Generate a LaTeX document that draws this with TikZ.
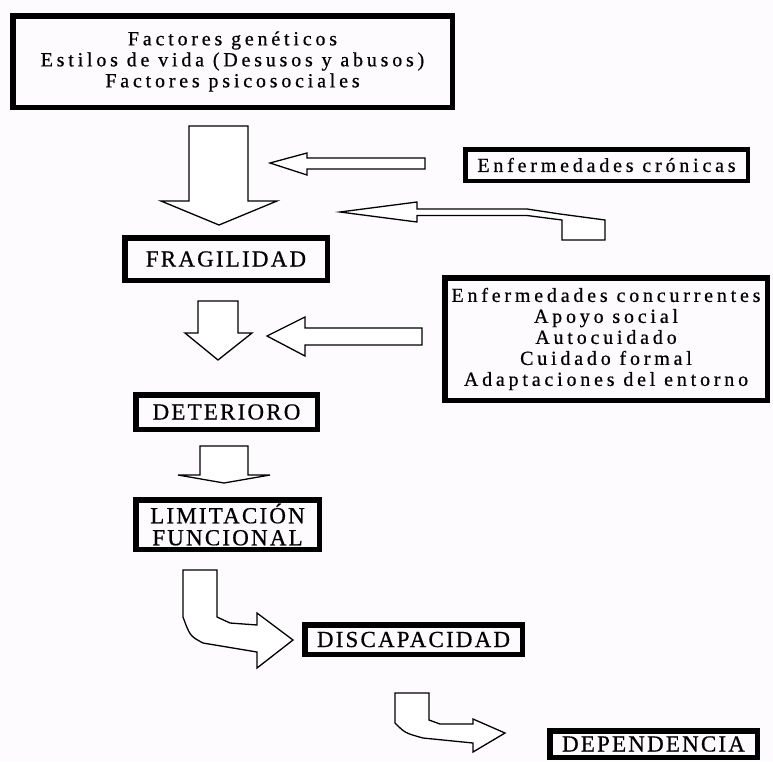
\documentclass[tikz,border=0pt]{standalone}
\usepackage{fontspec}
\newfontfamily\diagfontfam{Liberation Serif}[LetterSpace=19,FakeBold=0.6]
\newfontfamily\capfontfam{Liberation Serif}[LetterSpace=9.5,FakeBold=0.6]
\newcommand\diagfont{\diagfontfam\fontsize{20}{21}\selectfont}
\newcommand\capfont{\capfontfam\fontsize{23}{22}\selectfont}
\definecolor{paper}{RGB}{253,251,253}
\tikzset{
  box/.style={draw, line width=5.5pt, align=center, inner sep=0pt, font=\diagfont},
  capbox/.style={box, font=\capfont},
  blockarrow/.style={draw, line width=1.3pt, fill=white, line join=miter}
}
\begin{document}
\begin{tikzpicture}[x=1pt,y=-1pt]
\fill[paper] (0,0) rectangle (773,761);
\useasboundingbox (0,0) rectangle (773,761);

% boxes
\node[box, minimum width=439.5pt, minimum height=91.5pt] (factores) at (232.5,61.5)
  {Factores genéticos\\Estilos de vida (Desusos y abusos)\\Factores psicosociales};
\node[box, line width=4.5pt, minimum width=282.5pt, minimum height=31.5pt] (cronicas) at (606.5,165) {Enfermedades crónicas};
\node[capbox, minimum width=202.5pt, minimum height=42.5pt] (fragilidad) at (226,259) {FRAGILIDAD};
\node[box, minimum width=322.5pt, minimum height=122.5pt] (concurrentes) at (606,339)
  {Enfermedades concurrentes\\Apoyo social\\Autocuidado\\Cuidado formal\\Adaptaciones del entorno};
\node[capbox, minimum width=181.5pt, minimum height=34.5pt] (deterioro) at (226.5,412) {DETERIORO};
\node[capbox, minimum width=183.5pt, minimum height=49.5pt] (limitacion) at (227.5,524.5) {LIMITACIÓN\\FUNCIONAL};
\node[capbox, minimum width=217.5pt, minimum height=29.5pt] (discapacidad) at (413.5,639.5) {DISCAPACIDAD};
\node[capbox, minimum width=207.5pt, minimum height=26.5pt] (dependencia) at (653.5,744) {DEPENDENCIA};

% big down arrow (factores -> fragilidad)
\draw[blockarrow] (189,126) -- (248,126) -- (248,201) -- (277,201) -- (219,225)
  -- (161,201) -- (189,201) -- cycle;
% left arrow from cronicas
\draw[blockarrow] (425,158) -- (425,169) -- (307,169) -- (307,175) -- (270,163)
  -- (307,153) -- (307,158) -- cycle;
% hooked left arrow
\draw[blockarrow] (340,212) -- (417,202) -- (417,209) -- (527,209) -- (560,214)
  -- (605,220) -- (605,240) -- (562,240) -- (562,220) -- (527,215.5) -- (417,215.5)
  -- (417,222) -- cycle;
% down arrow fragilidad -> deterioro
\draw[blockarrow] (198,301) -- (238,301) -- (238,333) -- (252,333) -- (218,360)
  -- (185,333) -- (198,333) -- cycle;
% left arrow from concurrentes
\draw[blockarrow] (422,328) -- (422,345) -- (305,345) -- (305,356) -- (267,336)
  -- (305,317) -- (305,328) -- cycle;
% flat down arrow deterioro -> limitacion
\draw[blockarrow] (200,446) -- (248,446) -- (248,475) -- (270,475) -- (224,483)
  -- (178,475) -- (200,475) -- cycle;
% curved arrow limitacion -> discapacidad
\draw[blockarrow] (183,570) -- (217,570) -- (217,617) -- (230,623) -- (257,625)
  -- (257,613) -- (293,640) -- (257,668) -- (257,652) -- (203,643)
  .. controls (190,636) .. (183,617) -- cycle;
% curved arrow discapacidad -> dependencia
\draw[blockarrow] (395,693) -- (429,693) -- (429,720) -- (440,724) -- (473,724)
  -- (473,719) -- (505,733) -- (473,752) -- (473,743) -- (423,738)
  .. controls (405,733) .. (395,723) -- cycle;
\end{tikzpicture}
\end{document}
